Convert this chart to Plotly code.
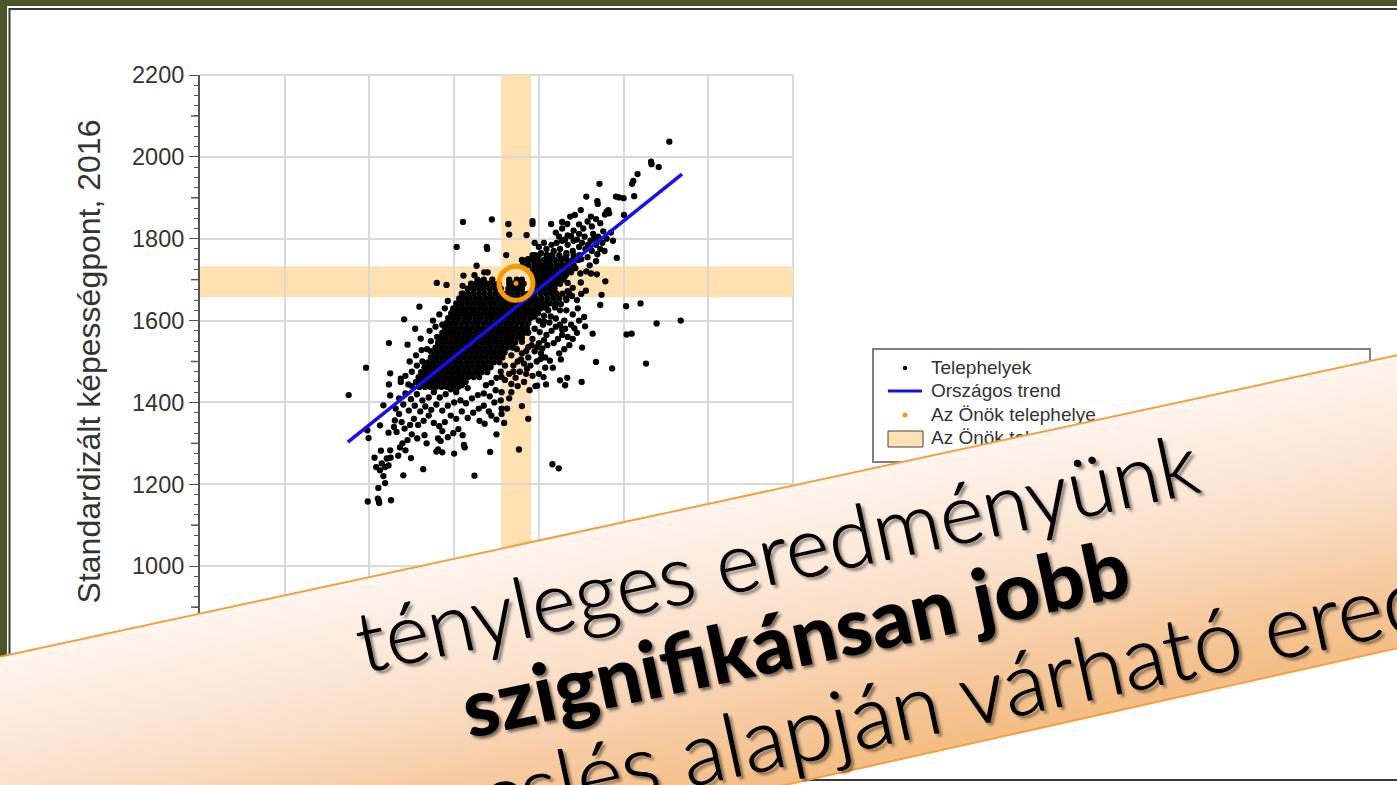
import base64
import plotly.graph_objects as go

# ---------- chart values ----------
y_ticks = [800, 1000, 1200, 1400, 1600, 1800, 2000, 2200]
x_ticks = [800, 1000, 1200, 1400, 1600, 1800, 2000, 2200]
odd_ticks = [900, 1100, 1300, 1500, 1700, 1900, 2100]

trend_x = [1149, 1938]
trend_y = [1303, 1958]
own_x = [1546]
own_y = [1691]
own_band_x = [1511, 1582]
own_band_y = [1657, 1733]

far_points = [
 (1908,2037),(1865,1988),(1866,1982),(1883,1975),(1833,1958),(1823,1941),(1820,1934),(1743,1934),
 (1825,1904),(1782,1903),(1800,1899),(1789,1901),(1712,1903),(1738,1892),(1739,1885),(1699,1870),
 (1760,1866),(1766,1862),(1756,1859),(1764,1870),(1801,1858),(1723,1854),(1421,1841),(1489,1847),
 (1528,1836),(1585,1843),(1585,1836),(1530,1810),(1571,1809),(1629,1836),(1655,1841),(1667,1836),
 (1674,1854),(1685,1858),(1406,1780),(1477,1780),(1478,1775),(1523,1760),(1784,1753),(1453,1734),
 (1422,1710),(1448,1711),(1471,1718),(1479,1718),(1359,1692),(1382,1687),(1420,1685),(1418,1666),
 (1460,1695),(1723,1715),(1737,1713),(1699,1693),(1757,1696),(1711,1673),(1748,1663),(1745,1638),
 (1806,1635),(1840,1642),(1878,1593),(1935,1600),(1807,1566),(1819,1568),(1853,1495),(1773,1483),
 (1735,1499),(1702,1534),(1727,1568),(1709,1586),(1707,1609),(1684,1581),(1701,1450),(1667,1460),
 (1650,1454),(1662,1442),(1617,1444),(1596,1441),(1611,1462),(1652,1505),(1626,1502),(1633,1485),
 (1604,1506),(1578,1430),(1560,1391),(1575,1360),(1500,1322),(1485,1279),(1553,1285),(1632,1249),
 (1647,1239),(1448,1221),(1425,1290),(1423,1296),(1400,1275),(1327,1237),(1280,1222),(1298,1264),
]
low_left_points = [
 (1251,1161),(1223,1154),(1220,1165),(1222,1160),(1196,1158),(1221,1191),(1237,1203),(1233,1220),
 (1225,1234),(1216,1242),(1237,1242),(1245,1246),(1212,1265),(1227,1282),(1249,1283),(1250,1265),
 (1241,1263),(1229,1251),(1151,1418),(1192,1485),(1246,1545),(1290,1541),(1282,1603),(1318,1634),
 (1308,1580),(1321,1556),(1323,1528),(1342,1575),(1356,1585),(1249,1471),(1274,1458),(1274,1450),
 (1246,1444),(1292,1444),(1249,1417),(1233,1393),(1198,1313),(1195,1332),(1225,1344),(1245,1326),
 (1264,1328),(1276,1352),(1260,1356),(1278,1300),(1290,1308),(1300,1322),(1313,1312),(1330,1320),
 (1335,1300),(1362,1312),(1372,1330),(1368,1306),(1362,1285),(1358,1280),(1372,1278),(1385,1315),
 (1398,1325),(1410,1335),(1420,1320),(1272,1290),(1285,1283),(1268,1270),(1258,1340),(1270,1372),
 (1283,1336),(1296,1345),(1305,1360),(1315,1345),(1328,1355),(1340,1368),(1352,1350),(1365,1342),
 (1378,1352),(1392,1368),(1405,1360),(1418,1378),(1432,1362),(1445,1375),(1458,1385),(1470,1392),
 (1482,1378),(1495,1400),(1510,1405),(1512,1385),(1460,1355),(1472,1348),(1488,1368),(1500,1358),
 (1512,1372),(1518,1350),(1530,1410),(1535,1425),(1525,1385),(1262,1385),(1280,1395),(1293,1380),
 (1307,1392),(1320,1378),(1332,1390),(1346,1382),(1358,1395),(1372,1380),(1385,1392),(1400,1400),
 (1415,1405),(1428,1398),(1442,1410),(1456,1418),(1470,1422),(1484,1415),(1498,1430),(1512,1425),
 (1270,1410),(1285,1422),(1298,1408),(1312,1420),(1325,1405),(1340,1412),(1352,1425),(1366,1412),
 (1380,1420),(1392,1432),(1405,1425),(1418,1442),(1432,1435),(1300,1440),(1285,1465),(1300,1475),
 (1312,1490),(1295,1500),(1310,1515),(1325,1500),(1336,1530),(1345,1550),(1360,1560),(1372,1570),
 (1350,1600),(1365,1615),(1378,1630),(1385,1648),(1398,1625),(1372,1590),(1345,1525),(1330,1460),
]
right_lower_points = [
 (1590,1610),(1600,1600),(1612,1612),(1625,1595),(1640,1605),(1650,1590),(1660,1600),(1590,1580),
 (1602,1572),(1618,1565),(1630,1575),(1645,1555),(1655,1565),(1668,1560),(1680,1555),(1635,1545),
 (1620,1540),(1600,1545),(1585,1555),(1575,1535),(1590,1525),(1605,1520),(1615,1510),(1575,1510),
 (1560,1520),(1550,1500),(1565,1495),(1580,1490),(1595,1500),(1540,1490),(1555,1475),(1570,1470),
 (1585,1465),(1600,1470),(1545,1460),(1530,1470),(1520,1455),(1535,1445),(1550,1440),(1565,1450),
 (1510,1475),(1500,1460),(1488,1448),(1475,1442),(1520,1490),(1535,1515),(1548,1530),(1560,1548),
 (1575,1570),(1610,1590),(1622,1625),(1638,1632),(1652,1640),(1665,1625),(1680,1615),(1695,1600),
 (1662,1580),(1676,1590),(1690,1570),(1672,1540),(1660,1530),(1648,1520),(1592,1440),(1615,1485),
 (1650,1625),(1665,1650),(1678,1660),(1690,1650),(1700,1665),(1668,1672),(1680,1680),(1692,1630),
 (1583,1622),(1597,1632),(1608,1640),(1612,1598),(1628,1610),(1640,1585),(1655,1578),(1612,1552),
 (1596,1535),(1608,1532),(1583,1540),(1570,1525),(1558,1505),(1572,1482),(1540,1475),(1512,1462),
]
upper_band_points = [
 (1640,1815),(1655,1825),(1668,1808),(1682,1820),(1695,1835),(1705,1825),(1715,1842),(1725,1830),
 (1735,1848),(1745,1838),(1728,1812),(1740,1805),(1752,1818),(1760,1800),(1770,1815),(1775,1795),
 (1750,1790),(1735,1785),(1722,1795),(1708,1805),(1695,1812),(1682,1795),(1668,1785),(1655,1795),
 (1642,1790),(1630,1785),(1618,1775),(1605,1765),(1620,1760),(1635,1770),(1650,1775),(1665,1765),
 (1680,1770),(1695,1780),(1710,1775),(1725,1770),(1738,1762),(1755,1770),(1715,1755),(1700,1750),
 (1590,1790),(1600,1780),(1612,1790),(1590,1760),(1575,1750),(1720,1735),(1735,1745),(1712,1720),
 (1648,1805),(1662,1798),(1676,1806),(1690,1798),(1702,1790),(1716,1785),(1730,1800),(1745,1775),
 (1660,1752),(1672,1740),(1686,1728),(1698,1715),(1676,1718),(1660,1706),(1668,1692),(1645,1720),
]
# rows of the dense centre of the cloud: y level -> x readings
core_rows = {
 1760: [1585, 1600, 1618, 1632, 1648, 1665, 1682, 1696],
 1748: [1560, 1572, 1586, 1598, 1612, 1625, 1638, 1652, 1666, 1680, 1693],
 1736: [1562, 1576, 1590, 1603, 1616, 1628, 1642, 1655, 1668, 1682],
 1724: [1585, 1598, 1610, 1622, 1635, 1648, 1660, 1672],
 1712: [1590, 1602, 1614, 1627, 1640, 1652, 1664],
 1700: [1455, 1470, 1490, 1530, 1548, 1560, 1595, 1608, 1620, 1632, 1644, 1656],
 1690: [1440, 1452, 1465, 1478, 1492, 1505, 1530, 1538, 1552, 1564, 1590, 1603, 1615, 1628, 1640, 1650],
 1678: [1432, 1445, 1458, 1470, 1484, 1497, 1510, 1528, 1540, 1552, 1560, 1588, 1600, 1612, 1625, 1637],
 1666: [1420, 1433, 1446, 1459, 1472, 1485, 1498, 1511, 1524, 1537, 1550, 1563, 1576, 1590, 1604, 1617, 1630, 1642, 1656, 1672],
 1654: [1412, 1425, 1437, 1450, 1463, 1476, 1489, 1502, 1515, 1528, 1541, 1553, 1566, 1580, 1593, 1606, 1620, 1634, 1648, 1664],
 1642: [1405, 1418, 1431, 1444, 1457, 1470, 1483, 1496, 1509, 1522, 1535, 1548, 1561, 1574, 1587, 1600, 1613, 1626, 1640],
 1630: [1398, 1410, 1423, 1436, 1449, 1462, 1475, 1488, 1501, 1514, 1527, 1540, 1553, 1566, 1579, 1592, 1605, 1618],
 1618: [1393, 1405, 1418, 1430, 1443, 1456, 1469, 1482, 1495, 1508, 1521, 1534, 1547, 1560, 1573, 1586, 1598],
 1606: [1386, 1398, 1411, 1424, 1437, 1450, 1463, 1476, 1489, 1502, 1515, 1528, 1541, 1554, 1567, 1580],
 1594: [1382, 1394, 1406, 1419, 1432, 1445, 1458, 1471, 1484, 1497, 1510, 1523, 1536, 1549, 1562, 1575],
 1582: [1378, 1390, 1403, 1416, 1429, 1442, 1455, 1468, 1481, 1494, 1507, 1520, 1533, 1546, 1560, 1572],
 1570: [1374, 1386, 1398, 1411, 1424, 1437, 1450, 1463, 1476, 1489, 1502, 1515, 1528, 1541, 1554, 1566],
 1558: [1368, 1380, 1393, 1406, 1419, 1432, 1445, 1458, 1471, 1484, 1497, 1510, 1523, 1536, 1549, 1560],
 1546: [1362, 1375, 1388, 1401, 1414, 1427, 1440, 1453, 1466, 1479, 1492, 1505, 1518, 1531, 1544],
 1534: [1356, 1369, 1382, 1395, 1408, 1421, 1434, 1447, 1460, 1473, 1486, 1499, 1512, 1525, 1538],
 1522: [1350, 1363, 1376, 1389, 1402, 1415, 1428, 1441, 1454, 1467, 1480, 1493, 1506, 1519],
 1510: [1345, 1358, 1371, 1384, 1397, 1410, 1423, 1436, 1449, 1462, 1475, 1488, 1501, 1514],
 1498: [1338, 1351, 1364, 1377, 1390, 1403, 1416, 1429, 1442, 1455, 1468, 1481, 1494, 1507],
 1486: [1330, 1343, 1356, 1369, 1382, 1395, 1408, 1421, 1434, 1447, 1460, 1473, 1486],
 1474: [1322, 1335, 1348, 1361, 1374, 1387, 1400, 1413, 1426, 1439, 1452, 1465, 1478],
 1462: [1316, 1329, 1342, 1355, 1368, 1381, 1394, 1407, 1420, 1433, 1446, 1459],
 1450: [1310, 1323, 1336, 1349, 1362, 1375, 1388, 1401, 1414, 1427],
 1438: [1318, 1331, 1344, 1357, 1370, 1383, 1396, 1409],
}

legend_labels = ["Telephelyek", "Országos trend", "Az Önök telephelye", "Az Önök telephelyének konfidencia-intervalluma"]
banner_lines = ["tényleges eredményünk", "szignifikánsan jobb", "a becslés alapján várható eredményünknél"]

# ---------- assemble ----------
pts = far_points + low_left_points + right_lower_points + upper_band_points
site_x = [p[0] for p in pts]
site_y = [p[1] for p in pts]
for lvl, xs in core_rows.items():
    site_x += xs
    site_y += [lvl] * len(xs)

W, H = 1397, 785
PL, PR, PT, PB = 200, 793, 75, 648
INK = "#333333"
GRID = "#D9D9D9"
BAND = "#FFE0B0"
ORANGE = "#F59B00"

fig = go.Figure()
fig.add_trace(go.Scatter(x=site_x, y=site_y, mode="markers", name=legend_labels[0],
                         marker=dict(color="black", size=6.3), showlegend=False))
fig.add_trace(go.Scatter(x=trend_x, y=trend_y, mode="lines", name=legend_labels[1],
                         line=dict(color="#1010F0", width=3.5), showlegend=False))
fig.add_trace(go.Scatter(x=own_x, y=own_y, mode="markers", name=legend_labels[2],
                         marker=dict(color=ORANGE, size=5), showlegend=False))
fig.add_trace(go.Scatter(x=own_x, y=own_y, mode="markers", name="ring", hoverinfo="skip",
                         marker=dict(symbol="circle-open", size=34, color=ORANGE, line=dict(color=ORANGE, width=5)),
                         showlegend=False))

# hand-built legend in a full-page overlay so that the banner can cover it
rows_y = [368, 391, 415, 438]
fig.add_trace(go.Scatter(x=[905], y=[rows_y[0]], xaxis="x2", yaxis="y2", mode="markers",
                         marker=dict(color="black", size=4.5), showlegend=False, hoverinfo="skip"))
fig.add_trace(go.Scatter(x=[888, 922], y=[rows_y[1], rows_y[1]], xaxis="x2", yaxis="y2", mode="lines",
                         line=dict(color="#1010F0", width=3), showlegend=False, hoverinfo="skip"))
fig.add_trace(go.Scatter(x=[905], y=[rows_y[2]], xaxis="x2", yaxis="y2", mode="markers",
                         marker=dict(color=ORANGE, size=5), showlegend=False, hoverinfo="skip"))
fig.add_trace(go.Scatter(x=[931] * 4, y=[r + 1 for r in rows_y], xaxis="x2", yaxis="y2", mode="text",
                         text=legend_labels, textposition="middle right",
                         textfont=dict(family="Liberation Sans, Arial", size=19, color=INK),
                         showlegend=False, hoverinfo="skip"))

def px(v):
    return v / W
def py(v):
    return 1 - v / H

shapes = [
    dict(type="rect", layer="below", xref="paper", yref="paper", x0=px(7), x1=1, y0=0, y1=py(6),
         fillcolor="white", line_width=0),
    dict(type="rect", layer="below", xref="paper", yref="paper", x0=px(9.5), x1=px(W + 10), y0=py(780), y1=py(9),
         fillcolor="white", line=dict(color="#3A3A3A", width=2)),
    dict(type="line", layer="below", xref="paper", yref="paper", x0=px(PL), x1=px(PR), y0=py(PT), y1=py(PT),
         line=dict(color=GRID, width=2)),
    dict(type="line", layer="below", xref="paper", yref="paper", x0=px(PR), x1=px(PR), y0=py(PB), y1=py(PT),
         line=dict(color=GRID, width=2)),
    dict(type="rect", layer="between", xref="x", yref="paper", x0=own_band_x[0], x1=own_band_x[1],
         y0=py(PB), y1=py(PT), fillcolor=BAND, line_width=0),
    dict(type="rect", layer="between", xref="paper", yref="y", x0=px(PL), x1=px(PR),
         y0=own_band_y[0], y1=own_band_y[1], fillcolor=BAND, line_width=0),
    dict(type="rect", layer="below", xref="paper", yref="paper", x0=px(873), x1=px(1370), y0=py(462), y1=py(349),
         fillcolor="white", line=dict(color="#7F7F7F", width=2)),
    dict(type="rect", layer="below", xref="paper", yref="paper", x0=px(888), x1=px(923), y0=py(447), y1=py(431),
         fillcolor=BAND, line=dict(color="#444444", width=1)),
]
for v in odd_ticks:
    shapes.append(dict(type="line", xref="paper", yref="y", x0=px(PL - 9), x1=px(PL), y0=v, y1=v,
                       line=dict(color="#555555", width=1.5)))

svg = f'''<svg xmlns="http://www.w3.org/2000/svg" width="{W}" height="{H}" viewBox="0 0 {W} {H}">
<defs><linearGradient id="g" gradientUnits="userSpaceOnUse" x1="700" y1="503" x2="762" y2="785">
<stop offset="0" stop-color="#FFF6F0"/><stop offset="0.45" stop-color="#FBE0CA"/>
<stop offset="0.8" stop-color="#F6C89C"/><stop offset="1" stop-color="#F4BE85"/></linearGradient></defs>
<polygon points="-10,659 1407,353 1407,646 700,804 -10,804" fill="url(#g)"/>
<polyline points="-10,659 1407,353" fill="none" stroke="#F3A040" stroke-width="2"/>
<polyline points="1407,646 700,804" fill="none" stroke="#F3A040" stroke-width="2"/>
</svg>'''
src = "data:image/svg+xml;base64," + base64.b64encode(svg.encode()).decode()

TXT_FONT = "Lato, Open Sans, DejaVu Sans"
SHADOW_THIN = "0.7px 0.7px 0 #000000, 3px 4px 3px #00000077"
SHADOW_BOLD = "2px 3px 3px #00000088"
def ann(text, cx, cy, size, weight, shadow):
    return dict(text=text, xref="x2", yref="y2",
                x=cx, y=cy, xanchor="center", yanchor="middle", showarrow=False,
                textangle=-12.2, font=dict(family=TXT_FONT, size=size, color="black", shadow=shadow, weight=weight))

fig.update_layout(
    width=W, height=H, autosize=False, margin=dict(l=0, r=0, t=0, b=0, pad=0, autoexpand=False),
    paper_bgcolor="#4A5528", plot_bgcolor="rgba(0,0,0,0)", showlegend=False,
    xaxis=dict(domain=[px(PL), px(PR)], range=[800, 2200], tickvals=x_ticks, ticks="outside", ticklen=9,
               showgrid=True, gridcolor=GRID, gridwidth=2, showline=True, linecolor="#555555",
               tickfont=dict(family="Liberation Sans, Arial", size=23.5, color=INK), zeroline=False,
               anchor="y"),
    yaxis=dict(domain=[py(PB), py(PT)], range=[800, 2200], tickvals=y_ticks, ticks="outside", ticklen=9,
               tickcolor="#555555", showgrid=True, gridcolor=GRID, gridwidth=2, showline=True, linecolor="#555555",
               linewidth=2, zeroline=False, automargin=False,
               minor=dict(dtick=25, ticks="outside", ticklen=4, tickcolor="#555555", showgrid=False),
               tickfont=dict(family="Liberation Sans, Arial", size=23.5, color=INK),
               title=dict(text="Standardizált képességpont, 2016", standoff=22,
                          font=dict(family="Liberation Sans, Arial", size=32, color=INK)),
               anchor="x"),
    xaxis2=dict(domain=[0, 1], range=[0, W], visible=False, anchor="y2", fixedrange=True),
    yaxis2=dict(domain=[0, 1], range=[H, 0], visible=False, anchor="x2", fixedrange=True),
    shapes=shapes,
    images=[dict(source=src, xref="paper", yref="paper", x=0, y=1, sizex=1, sizey=1,
                 xanchor="left", yanchor="top", sizing="stretch", layer="above")],
    annotations=[ann(banner_lines[0], 775, 550, 84, 300, SHADOW_THIN),
                 ann(banner_lines[1], 795, 636, 80, 900, SHADOW_BOLD),
                 ann(banner_lines[2], 1100, 663, 88, 300, SHADOW_THIN)],
)
fig.write_html("out.html", post_script="document.body.style.margin='0';document.body.style.overflow='hidden';",
               config={"displayModeBar": False})
